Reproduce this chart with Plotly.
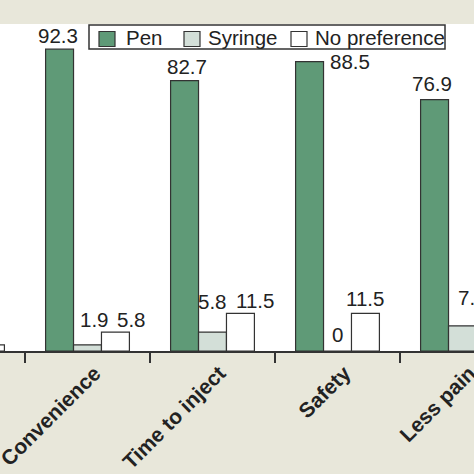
import plotly.graph_objects as go

categories = ["Ease of use", "Convenience", "Time to inject", "Safety", "Less pain"]
pen = [96.2, 92.3, 82.7, 88.5, 76.9]
syringe = [1.9, 1.9, 5.8, 0, 7.7]
no_pref = [1.9, 5.8, 11.5, 11.5, 15.4]
series_names = ["Pen", "Syringe", "No preference"]

# styling
colors = ["#5f9a77", "#d3dfd8", "#ffffff"]
outline = "#333333"
beige = "#e8e7da"
txt = "#222222"
W = H = 474
M_T, M_B = 24, 123
bar_w = 0.2235
# per-label pixel nudges (dx, dy) for readability, per series per category
label_dx = [[0, -2, 2, 40, -3], [6, 7, 0, 0, 10], [6, 16, 15, 0, 0]]
label_dy = [[0, 0, 1, -13, 3], [0, 12, 17, 3, 15], [0, -1, -1, 1, 0]]

fig = go.Figure()
series = [pen, syringe, no_pref]
for j, (name, vals) in enumerate(zip(series_names, series)):
    fig.add_trace(go.Bar(
        x=categories, y=vals, name=name, showlegend=False,
        marker=dict(color=colors[j], line=dict(color=outline, width=1.2)),
    ))

annotations = []
for j, vals in enumerate(series):
    for i, v in enumerate(vals):
        annotations.append(dict(
            x=i + (j - 1) * bar_w, y=v, xref="x", yref="y",
            text=f"{v:g}" if v != 0 else "0",
            showarrow=False, yanchor="bottom", xanchor="center",
            xshift=label_dx[j][i], yshift=label_dy[j][i],
            font=dict(size=20.5, color=txt, family="Liberation Sans, Arial"),
        ))

# custom legend (box, swatches, labels) in paper coordinates
plot_h = H - M_T - M_B
def px_x(p):
    return p / W
def px_y(p):
    return 1 - (p - M_T) / plot_h

shapes = [dict(type="rect", xref="paper", yref="paper",
               x0=px_x(89), x1=px_x(445), y0=px_y(49), y1=px_y(25),
               line=dict(color=outline, width=1.5), fillcolor="#ffffff", layer="above")]
swatch_left = [99, 184, 291]
text_left = [124, 206, 313]
for j, name in enumerate(series_names):
    shapes.append(dict(type="rect", xref="paper", yref="paper",
                       x0=px_x(swatch_left[j]), x1=px_x(swatch_left[j] + 16),
                       y0=px_y(46.5), y1=px_y(31.5),
                       line=dict(color=outline, width=1.2), fillcolor=colors[j], layer="above"))
    annotations.append(dict(x=px_x(text_left[j]), y=px_y(37.5), xref="paper", yref="paper",
                            text=name, showarrow=False, xanchor="left", yanchor="middle",
                            font=dict(size=20.5, color=txt, family="Liberation Sans, Arial")))

fig.update_layout(
    width=W, height=H,
    margin=dict(l=0, r=0, t=M_T, b=M_B),
    paper_bgcolor=beige, plot_bgcolor="#ffffff",
    barmode="group", bargap=1 - 3 * bar_w, bargroupgap=0,
    font=dict(family="Liberation Sans, Arial", color=txt),
    showlegend=False,
    annotations=annotations,
    shapes=shapes,
)
fig.update_xaxes(
    type="category", range=[0.3, 4.092], automargin=False,
    tickson="boundaries", ticks="outside", ticklen=10, tickwidth=1.5, tickcolor=outline,
    showline=True, linecolor=outline, linewidth=1.5,
    tickangle=-45, ticklabelshift=7,
    tickfont=dict(size=21, family="Liberation Sans, Arial", color=txt, weight="bold"),
    showgrid=False,
)
fig.update_yaxes(range=[0, 100], visible=False, showgrid=False, zeroline=False)

fig.write_html("out.html", config={"displayModeBar": False},
               post_script="document.body.style.margin='0';document.body.style.background='" + beige + "';")
